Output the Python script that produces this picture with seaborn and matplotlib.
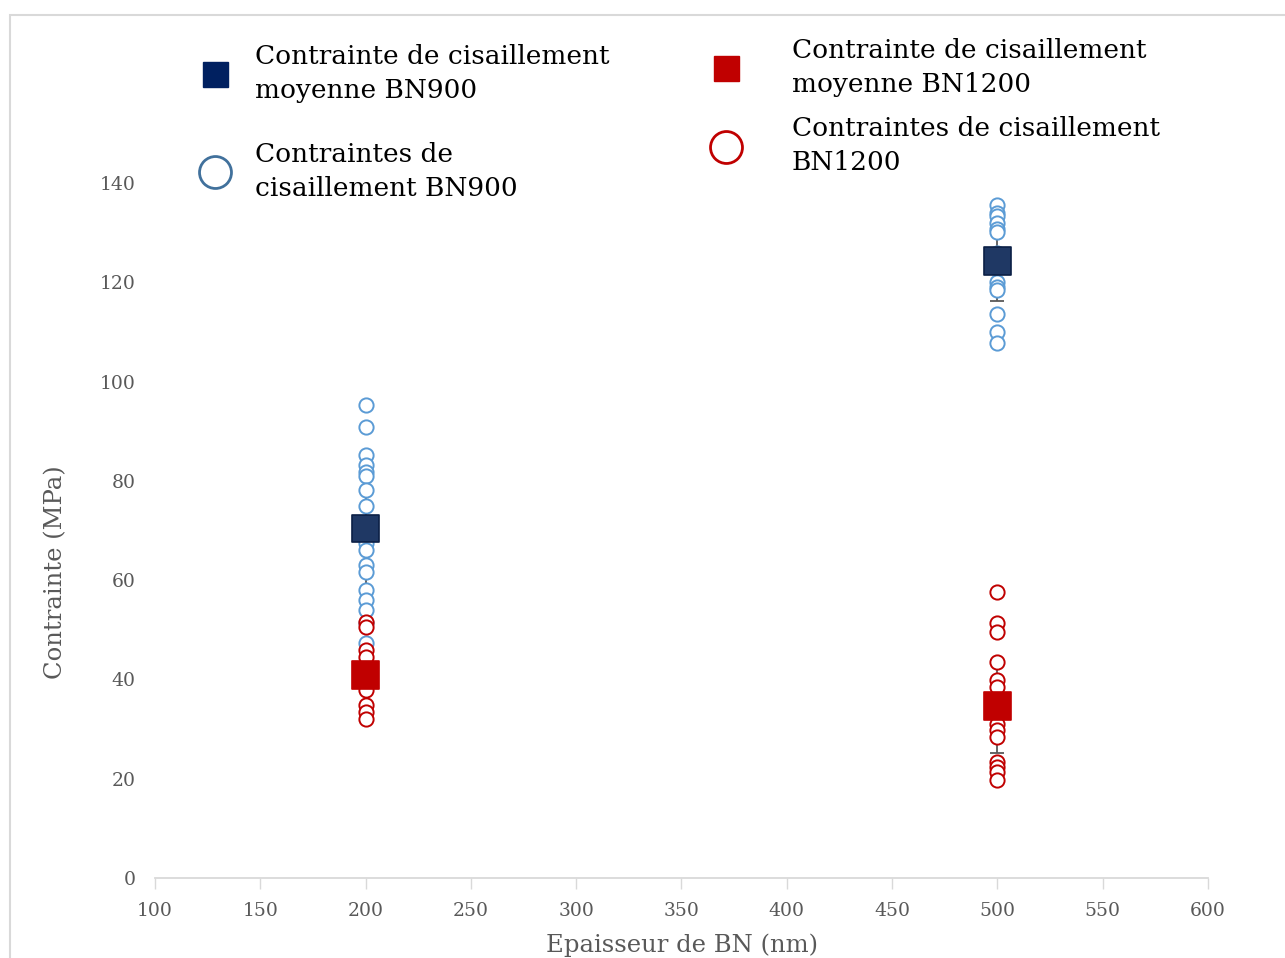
import numpy as np
import pandas as pd
import matplotlib
matplotlib.use("Agg")
import matplotlib.pyplot as plt
from matplotlib.lines import Line2D
from matplotlib.patches import Rectangle
import seaborn as sns

# individual shear stresses (MPa)
bn900_200 = [95.3, 90.8, 85.2, 83.2, 81.8, 81.0, 78.2, 75.0, 67.4, 66.1,
             63.1, 61.7, 58.0, 56.0, 54.0, 51.3, 47.3]
bn900_500 = [135.6, 133.9, 133.4, 131.9, 130.7, 130.2, 126.0, 120.1, 119.1,
             118.5, 113.6, 110.0, 107.8]
bn1200_200 = [51.6, 50.6, 45.9, 44.6, 37.9, 34.8, 33.5, 32.1]
bn1200_500 = [57.7, 51.3, 49.6, 43.6, 39.9, 38.5, 31.1, 29.8, 28.5, 23.4,
              22.4, 21.4, 19.7]

# mean values and standard deviations
thickness = [200, 500]
mean_bn900 = [70.4, 124.3]
std_bn900 = [12.5, 8.0]
mean_bn1200 = [40.9, 34.6]
std_bn1200 = [6.5, 9.4]

lbl_mean900 = "Contrainte de cisaillement\nmoyenne BN900"
lbl_pts900 = "Contraintes de\ncisaillement BN900"
lbl_mean1200 = "Contrainte de cisaillement\nmoyenne BN1200"
lbl_pts1200 = "Contraintes de cisaillement\nBN1200"

df900 = pd.DataFrame({
    "x": [200] * len(bn900_200) + [500] * len(bn900_500),
    "y": bn900_200 + bn900_500,
})
df1200 = pd.DataFrame({
    "x": [200] * len(bn1200_200) + [500] * len(bn1200_500),
    "y": bn1200_200 + bn1200_500,
})
df_mean = pd.DataFrame({
    "x": thickness * 2,
    "y": mean_bn900 + mean_bn1200,
    "err": std_bn900 + std_bn1200,
    "serie": ["BN900"] * 2 + ["BN1200"] * 2,
})

sns.set_style("white")
plt.rcParams["font.family"] = ["DejaVu Serif"]

W, H = 1285, 958
fig = plt.figure(figsize=(W / 100, H / 100), dpi=100)
ax = fig.add_axes([155 / W, 1 - 878 / H, (1208 - 155) / W, (878 - 183) / H])

grey = "#595959"

# error bars behind everything
ax.errorbar(df_mean["x"], df_mean["y"], yerr=df_mean["err"], fmt="none",
            ecolor=grey, elinewidth=1.3, capsize=5, capthick=1.3, zorder=1)

sns.scatterplot(data=df900, x="x", y="y", ax=ax, marker="o", s=105,
                facecolor="white", edgecolor="#5B9BD5", linewidth=1.4,
                zorder=2, legend=False)
sns.scatterplot(data=df1200, x="x", y="y", ax=ax, marker="o", s=105,
                facecolor="white", edgecolor="#C00000", linewidth=1.4,
                zorder=3, legend=False)
sns.scatterplot(data=df_mean, x="x", y="y", hue="serie", ax=ax, marker="s",
                s=400, palette={"BN900": "#1F3864", "BN1200": "#C00000"},
                edgecolor=None, linewidth=0, zorder=4, legend=False)
# darker edge on the navy square only
for coll in ax.collections[-1:]:
    ec = ["#0B1F45" if s == "BN900" else "#C00000" for s in df_mean["serie"]]
    coll.set_edgecolor(ec)
    coll.set_linewidth(1.2)

ax.set_xlim(100, 600)
ax.set_ylim(0, 140)
ax.set_xticks(range(100, 601, 50))
ax.set_yticks(range(0, 141, 20))
ax.tick_params(axis="x", colors=grey, labelsize=13.5, length=8, width=1,
               color="#D9D9D9", pad=9, direction="out", bottom=True)
ax.tick_params(axis="y", colors=grey, labelsize=13.5, length=0, pad=14)
for s in ["top", "right", "left"]:
    ax.spines[s].set_visible(False)
ax.spines["bottom"].set_color("#D9D9D9")
ax.spines["bottom"].set_linewidth(1.3)

ax.set_xlabel("Epaisseur de BN (nm)", color=grey, fontsize=17.5, labelpad=10)
ax.set_ylabel("Contrainte (MPa)", color=grey, fontsize=17.5)
ax.yaxis.set_label_coords(-0.083, 0.44)

# chart border
fig.patches.append(Rectangle((10 / W, -0.1), 1.2, 1 - 15 / H + 0.1,
                             transform=fig.transFigure, fill=False,
                             edgecolor="#D9D9D9", linewidth=1.5))

h_mean900 = Line2D([], [], linestyle="none", marker="s", markersize=18,
                   markerfacecolor="#002060", markeredgecolor="#002060")
h_pts900 = Line2D([], [], linestyle="none", marker="o", markersize=23,
                  markerfacecolor="none", markeredgecolor="#41719C",
                  markeredgewidth=2)
h_mean1200 = Line2D([], [], linestyle="none", marker="s", markersize=18,
                    markerfacecolor="#C00000", markeredgecolor="#C00000")
h_pts1200 = Line2D([], [], linestyle="none", marker="o", markersize=23,
                   markerfacecolor="none", markeredgecolor="#C00000",
                   markeredgewidth=2)

leg_kw = dict(frameon=False, fontsize=19, handlelength=1.4,
              borderaxespad=0, labelcolor="black")
leg1 = fig.legend([h_mean900, h_pts900], [lbl_mean900, lbl_pts900],
                  loc="upper left", bbox_to_anchor=(186 / W, 1 - 33 / H),
                  labelspacing=1.5, handletextpad=0.8, **leg_kw)
leg2 = fig.legend([h_mean1200, h_pts1200], [lbl_mean1200, lbl_pts1200],
                  loc="upper left", bbox_to_anchor=(697 / W, 1 - 27 / H),
                  labelspacing=0.75, handletextpad=1.8, **leg_kw)
for leg in (leg1, leg2):
    for t in leg.get_texts():
        t.set_linespacing(1.45)

fig.savefig("out.png", dpi=100)
